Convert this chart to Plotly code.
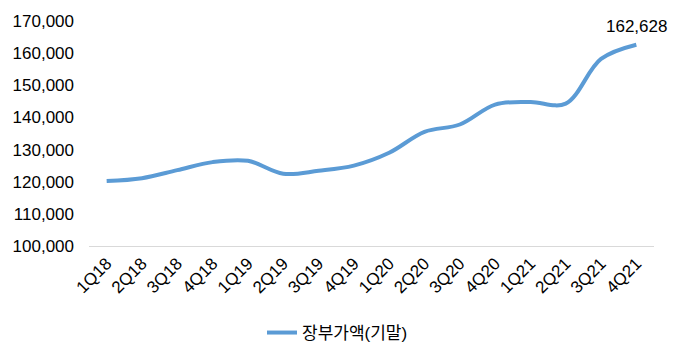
import plotly.graph_objects as go

quarters = ["1Q18", "2Q18", "3Q18", "4Q18", "1Q19", "2Q19", "3Q19", "4Q19",
            "1Q20", "2Q20", "3Q20", "4Q20", "1Q21", "2Q21", "3Q21", "4Q21"]
book_value = [120200, 121100, 123600, 126100, 126500, 122500, 123400, 125000,
              129000, 135500, 137800, 144000, 144800, 144300, 158200, 162628]
series_name = "장부가액(기말)"

FONT = "Liberation Sans, Arial, Noto Sans CJK KR, sans-serif"

fig = go.Figure()
fig.add_trace(go.Scatter(
    x=quarters, y=book_value, name=series_name, mode="lines",
    line=dict(color="#5B9BD5", width=4, shape="spline", smoothing=1),
))

fig.add_annotation(
    x=quarters[-1], y=book_value[-1], text=f"{book_value[-1]:,}",
    showarrow=False, yanchor="bottom", yshift=7,
    font=dict(size=17, color="#000000", family=FONT),
)

fig.update_layout(
    width=675, height=352,
    margin=dict(l=89, r=21, t=18, b=106),
    paper_bgcolor="white", plot_bgcolor="white",
    font=dict(family=FONT, size=17, color="#000000"),
    showlegend=True,
    legend=dict(orientation="h", xref="container", yref="container",
                x=0.5, xanchor="center", y=0.054, yanchor="middle",
                font=dict(size=17, family=FONT)),
    xaxis=dict(type="category", range=[-0.5, 15.5], tickangle=-45,
               showgrid=False, showline=True, linecolor="#D9D9D9", linewidth=1,
               ticks="", tickfont=dict(size=17), zeroline=False),
    yaxis=dict(range=[100000, 170000], dtick=10000, tickformat=",",
               showgrid=False, showline=False, zeroline=False,
               ticks="", ticklabelstandoff=14, tickfont=dict(size=17)),
)

fig.write_html("out.html")
